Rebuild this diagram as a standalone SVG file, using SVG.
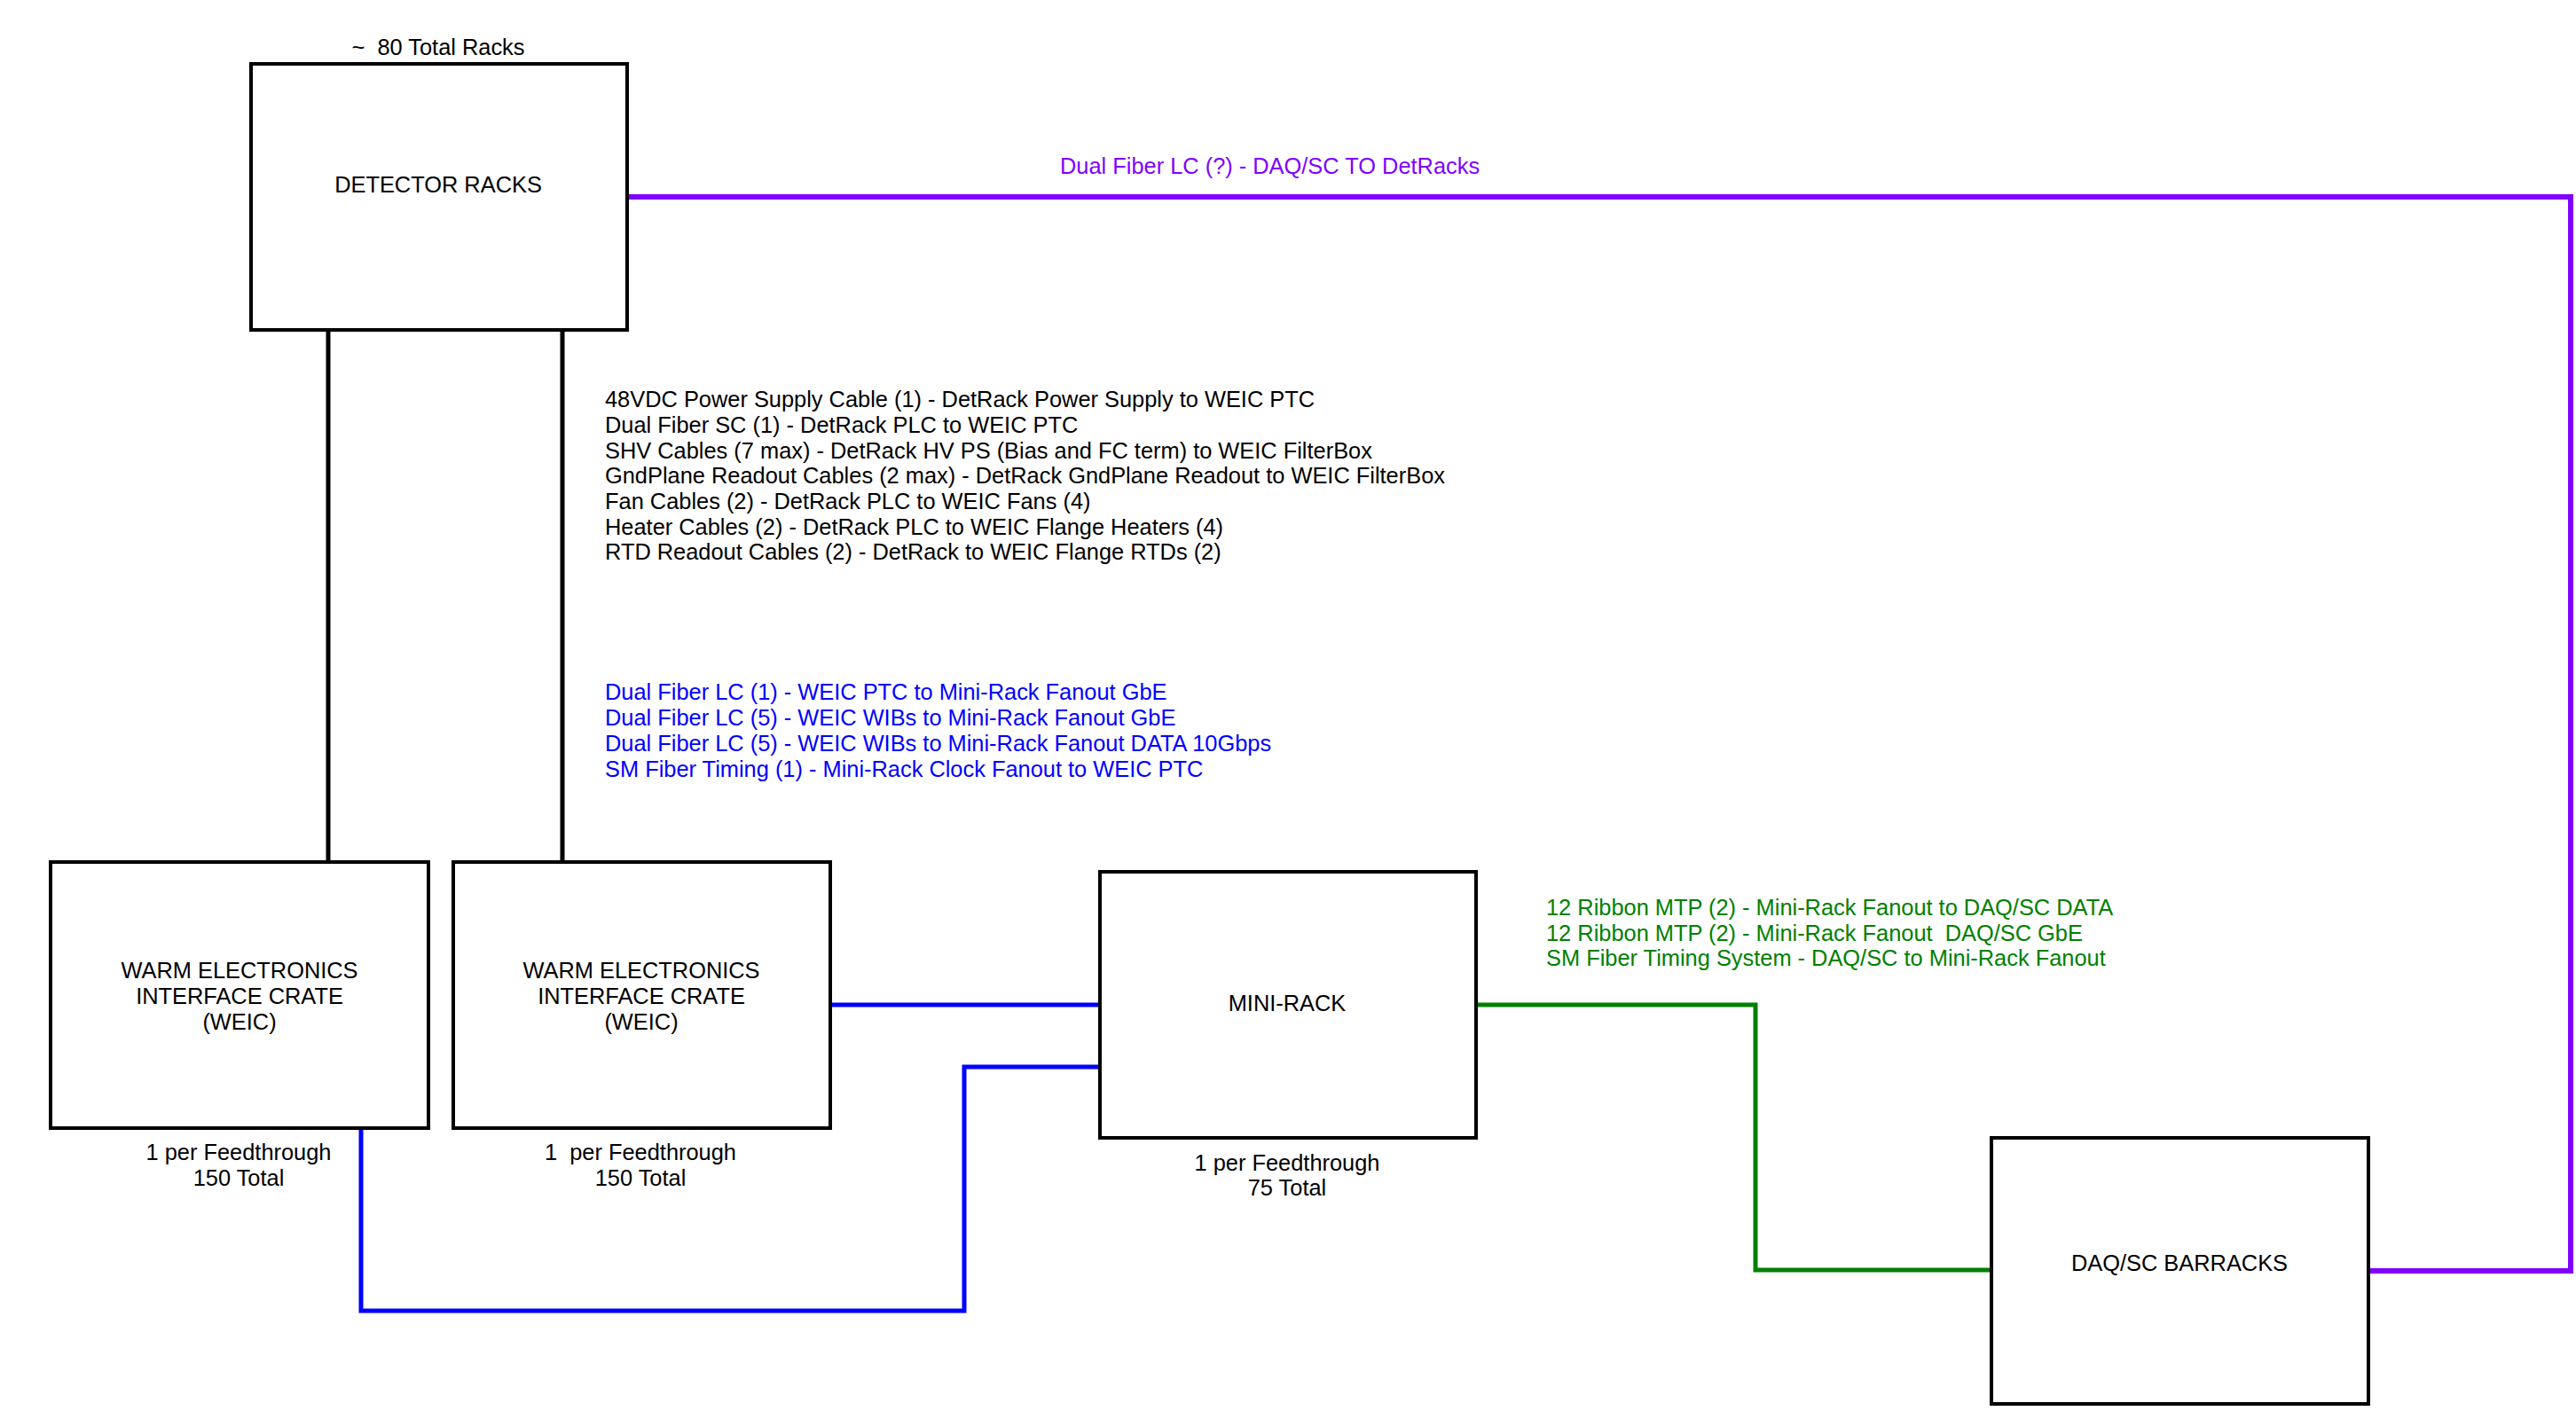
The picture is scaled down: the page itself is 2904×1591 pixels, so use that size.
<svg xmlns="http://www.w3.org/2000/svg" width="2904" height="1591" viewBox="0 0 2904 1591">
<style>
text{font-family:"Liberation Sans",Arial,sans-serif;font-size:25.4px;fill:#000}
.box{fill:#fff;stroke:#000;stroke-width:4}
.c{text-anchor:middle}
.blk{fill:none;stroke:#000;stroke-width:5}
.blu{fill:none;stroke:#0000ff;stroke-width:5}
.grn{fill:none;stroke:#008000;stroke-width:5}
.pur{fill:none;stroke:#8000ff;stroke-width:6}
.tb{fill:#0000ff}.tg{fill:#008000}.tp{fill:#8000ff}
</style>
<rect width="2904" height="1591" fill="#fff"/>
<g id="connectors">
<path class="blk" d="M370 372V972"/>
<path class="blk" d="M634 372V972"/>
<path class="blu" d="M936 1133H1240"/>
<path class="blu" d="M407 1272V1478H1087V1203H1240"/>
<path class="grn" d="M1664 1133H1979V1432H2245"/>
<path class="pur" d="M707 222H2898V1433H2670"/>
<text class="tp" x="1195" y="196">Dual Fiber LC (?) - DAQ/SC TO DetRacks</text>
<text x="682" y="459">48VDC Power Supply Cable (1) - DetRack Power Supply to WEIC PTC</text>
<text x="682" y="488">Dual Fiber SC (1) - DetRack PLC to WEIC PTC</text>
<text x="682" y="517">SHV Cables (7 max) - DetRack HV PS (Bias and FC term) to WEIC FilterBox</text>
<text x="682" y="545">GndPlane Readout Cables (2 max) - DetRack GndPlane Readout to WEIC FilterBox</text>
<text x="682" y="574">Fan Cables (2) - DetRack PLC to WEIC Fans (4)</text>
<text x="682" y="603">Heater Cables (2) - DetRack PLC to WEIC Flange Heaters (4)</text>
<text x="682" y="631">RTD Readout Cables (2) - DetRack to WEIC Flange RTDs (2)</text>
<text class="tb" x="682" y="789">Dual Fiber LC (1) - WEIC PTC to Mini-Rack Fanout GbE</text>
<text class="tb" x="682" y="818">Dual Fiber LC (5) - WEIC WIBs to Mini-Rack Fanout GbE</text>
<text class="tb" x="682" y="847">Dual Fiber LC (5) - WEIC WIBs to Mini-Rack Fanout DATA 10Gbps</text>
<text class="tb" x="682" y="876">SM Fiber Timing (1) - Mini-Rack Clock Fanout to WEIC PTC</text>
<text class="tg" x="1743" y="1032">12 Ribbon MTP (2) - Mini-Rack Fanout to DAQ/SC DATA</text>
<text class="tg" x="1743" y="1061" xml:space="preserve">12 Ribbon MTP (2) - Mini-Rack Fanout  DAQ/SC GbE</text>
<text class="tg" x="1743" y="1089">SM Fiber Timing System - DAQ/SC to Mini-Rack Fanout</text>
</g>
<g id="detector-racks">
<rect class="box" x="283" y="72" width="424" height="300"/>
<text class="c" x="494" y="217">DETECTOR RACKS</text>
<text class="c" x="494" y="62" xml:space="preserve">~  80 Total Racks</text>
</g>
<g id="weic-1">
<rect class="box" x="57" y="972" width="426" height="300"/>
<text class="c" x="270" y="1103">WARM ELECTRONICS</text>
<text class="c" x="270" y="1132">INTERFACE CRATE</text>
<text class="c" x="270" y="1161">(WEIC)</text>
<text class="c" x="269" y="1308">1 per Feedthrough</text>
<text class="c" x="269" y="1337">150 Total</text>
</g>
<g id="weic-2">
<rect class="box" x="511" y="972" width="425" height="300"/>
<text class="c" x="723" y="1103">WARM ELECTRONICS</text>
<text class="c" x="723" y="1132">INTERFACE CRATE</text>
<text class="c" x="723" y="1161">(WEIC)</text>
<text class="c" x="722" y="1308" xml:space="preserve">1  per Feedthrough</text>
<text class="c" x="722" y="1337">150 Total</text>
</g>
<g id="mini-rack">
<rect class="box" x="1240" y="983" width="424" height="300"/>
<text class="c" x="1451" y="1140">MINI-RACK</text>
<text class="c" x="1451" y="1320">1 per Feedthrough</text>
<text class="c" x="1451" y="1348">75 Total</text>
</g>
<g id="daq-sc-barracks">
<rect class="box" x="2245" y="1283" width="425" height="300"/>
<text class="c" x="2457" y="1433">DAQ/SC BARRACKS</text>
</g>
</svg>
